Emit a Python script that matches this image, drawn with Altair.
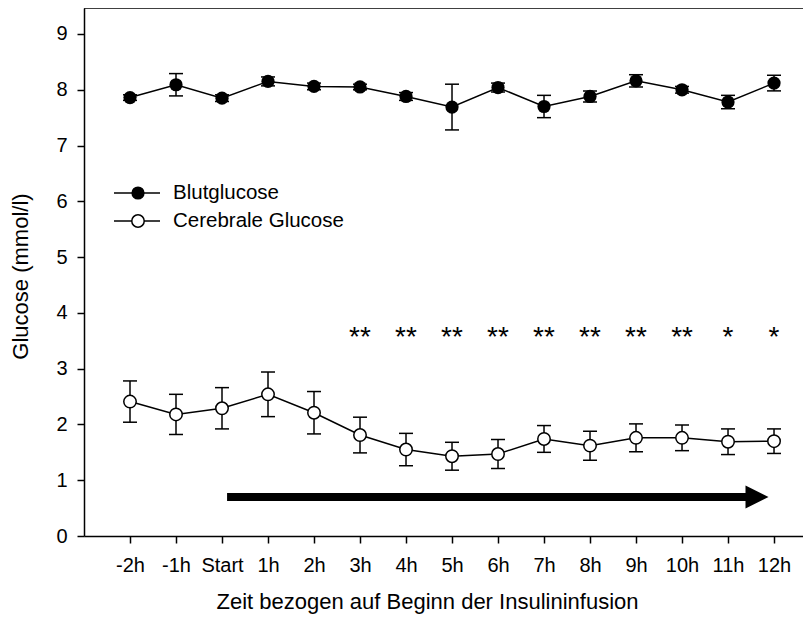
import altair as alt
import pandas as pd

# ---- data ----
zeit_labels = ["-2h", "-1h", "Start", "1h", "2h", "3h", "4h", "5h", "6h",
               "7h", "8h", "9h", "10h", "11h", "12h"]
blut_mean = [7.86, 8.09, 7.85, 8.15, 8.06, 8.05, 7.88, 7.69, 8.04, 7.70,
             7.88, 8.16, 8.00, 7.78, 8.12]
blut_se = [0.05, 0.20, 0.06, 0.08, 0.06, 0.05, 0.07, 0.41, 0.08, 0.20,
           0.10, 0.11, 0.06, 0.12, 0.14]
cere_mean = [2.41, 2.18, 2.29, 2.54, 2.21, 1.81, 1.55, 1.43, 1.47, 1.74,
             1.62, 1.76, 1.76, 1.69, 1.70]
cere_se = [0.37, 0.36, 0.37, 0.40, 0.38, 0.32, 0.29, 0.25, 0.26, 0.24,
           0.26, 0.25, 0.23, 0.23, 0.22]
sig_marks = ["", "", "", "", "", "**", "**", "**", "**", "**", "**", "**",
             "**", "*", "*"]
sig_level = 3.40
arrow_start = 2.11
arrow_end = 13.42
arrow_head = 13.63
arrow_level = 0.70
legend_labels = ["Blutglucose", "Cerebrale Glucose"]

idx = list(range(len(zeit_labels)))
df = pd.DataFrame({
    "t": idx,
    "blut": blut_mean,
    "blut_lo": [m - s for m, s in zip(blut_mean, blut_se)],
    "blut_hi": [m + s for m, s in zip(blut_mean, blut_se)],
    "cere": cere_mean,
    "cere_lo": [m - s for m, s in zip(cere_mean, cere_se)],
    "cere_hi": [m + s for m, s in zip(cere_mean, cere_se)],
    "sig": sig_marks,
    "lvl": [sig_level] * len(idx),
})
arrow_df = pd.DataFrame({"t": [arrow_start], "x2": [arrow_end], "xh": [arrow_head],
                         "y": [arrow_level]})

W, H = 719, 528
FONT = "Liberation Sans"
xs = alt.Scale(domain=[-1, 14.63], nice=False, zero=False)
ys = alt.Scale(domain=[0, 9.466], nice=False, zero=False)

label_js = "[" + ",".join("'" + l + "'" for l in zeit_labels) + "][datum.value]"

x_axis = alt.Axis(values=idx, labelExpr=label_js,
                  title="Zeit bezogen auf Beginn der Insulininfusion",
                  grid=False, tickSize=7, labelPadding=12, titlePadding=16,
                  titleX=343)
y_axis = alt.Axis(values=list(range(10)), title="Glucose (mmol/l)", grid=False,
                  tickSize=7, labelPadding=10, titlePadding=23, titleY=268)


def X(field="t"):
    return alt.X(field + ":Q", scale=xs, axis=x_axis)


def Y(field):
    return alt.Y(field + ":Q", scale=ys, axis=y_axis)


base = alt.Chart(df)
black = "black"
lw = 1.5

layers = []
# error bars
layers.append(base.mark_rule(color=black, strokeWidth=lw).encode(
    x=X(), y=Y("blut_lo"), y2="blut_hi:Q"))
layers.append(base.mark_rule(color=black, strokeWidth=lw).encode(
    x=X(), y=Y("cere_lo"), y2="cere_hi:Q"))
for f in ["blut_lo", "blut_hi", "cere_lo", "cere_hi"]:
    layers.append(base.mark_tick(orient="horizontal", size=14, thickness=lw,
                                 color=black, opacity=1).encode(x=X(), y=Y(f)))
# lines
layers.append(base.mark_line(color=black, strokeWidth=lw).encode(x=X(), y=Y("blut")))
layers.append(base.mark_line(color=black, strokeWidth=lw).encode(x=X(), y=Y("cere")))
# points
layers.append(base.mark_point(shape="circle", filled=True, size=175, color=black,
                              opacity=1).encode(x=X(), y=Y("blut")))
layers.append(base.mark_point(shape="circle", filled=True, size=155, fill="white",
                              stroke=black, strokeWidth=lw, opacity=1).encode(x=X(), y=Y("cere")))
# significance stars
layers.append(base.mark_text(fontSize=28, font=FONT, color=black, baseline="alphabetic",
                             align="center").encode(x=X(), y=Y("lvl"), text="sig:N"))
# arrow
ac = alt.Chart(arrow_df)
layers.append(ac.mark_rule(color=black, strokeWidth=8, strokeCap="butt").encode(
    x=X("t"), x2="x2:Q", y=Y("y")))
layers.append(ac.mark_point(shape="M-1,-1L1,0L-1,1Z", filled=True, size=529, color=black,
                            opacity=1).encode(x=X("xh"), y=Y("y")))
# top frame line
one = alt.Chart(pd.DataFrame({"a": [0]}))
layers.append(one.mark_rule(color=black, strokeWidth=lw).encode(
    x=alt.value(0), x2=alt.value(W), y=alt.value(0)))
# legend
leg_y = [185, 213]
for i, lab in enumerate(legend_labels):
    layers.append(one.mark_rule(color=black, strokeWidth=lw).encode(
        x=alt.value(30), x2=alt.value(76), y=alt.value(leg_y[i])))
    if i == 0:
        layers.append(one.mark_point(shape="circle", filled=True, size=175, color=black,
                                     opacity=1).encode(x=alt.value(54), y=alt.value(leg_y[i])))
    else:
        layers.append(one.mark_point(shape="circle", filled=True, size=155, fill="white",
                                     stroke=black, strokeWidth=lw, opacity=1).encode(
            x=alt.value(54), y=alt.value(leg_y[i])))
    layers.append(one.mark_text(text=lab, fontSize=20.5, font=FONT, color=black,
                                align="left", baseline="middle").encode(
        x=alt.value(89), y=alt.value(leg_y[i])))

chart = alt.layer(*layers).properties(
    width=W, height=H,
    autosize=alt.AutoSizeParams(type="none"),
    padding={"left": 76, "top": 0, "right": 0, "bottom": 80},
    background="white",
).configure_view(stroke=None).configure_axis(
    domainColor=black, domainWidth=lw, tickColor=black, tickWidth=lw,
    labelFont=FONT, labelFontSize=20, labelColor=black,
    titleFont=FONT, titleFontSize=22, titleFontWeight="normal", titleColor=black,
)

chart.save("out.html", embed_options={"renderer": "svg", "actions": False})
